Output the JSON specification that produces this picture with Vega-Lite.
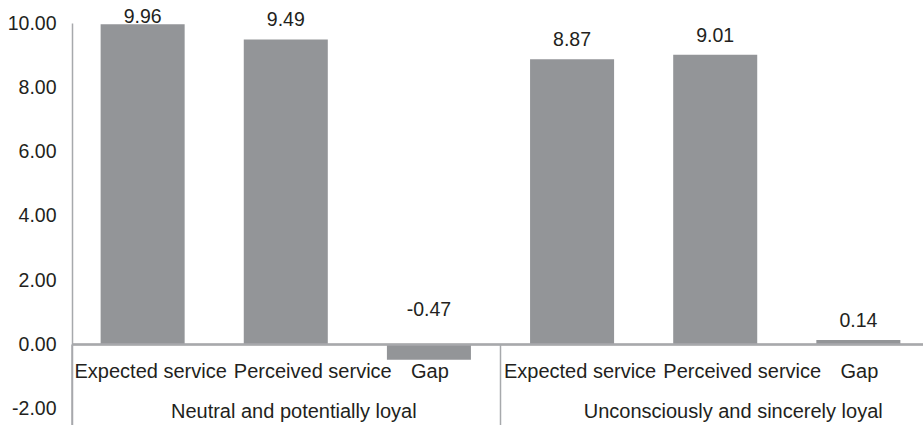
{
  "$schema": "https://vega.github.io/schema/vega-lite/v6.json",
  "width": 851,
  "height": 402,
  "autosize": {"type": "none"},
  "padding": {"left": 72, "top": 23, "right": 0, "bottom": 0},
  "background": "white",
  "config": {"view": {"stroke": null}, "font": "Liberation Sans"},
  "datasets": {
    "bars": [
      {"group": "Neutral and potentially loyal", "category": "Expected service", "value": 9.96},
      {"group": "Neutral and potentially loyal", "category": "Perceived service", "value": 9.49},
      {"group": "Neutral and potentially loyal", "category": "Gap", "value": -0.47},
      {"group": "Unconsciously and sincerely loyal", "category": "Expected service", "value": 8.87},
      {"group": "Unconsciously and sincerely loyal", "category": "Perceived service", "value": 9.01},
      {"group": "Unconsciously and sincerely loyal", "category": "Gap", "value": 0.14}
    ],
    "seps": [{"boundary": 0}, {"boundary": 3}, {"boundary": 6}]
  },
  "resolve": {"scale": {"x": "independent"}},
  "layer": [
    {
      "data": {"name": "bars"},
      "transform": [
        {"calculate": "datum.group + '|' + datum.category", "as": "key"},
        {"calculate": "min(abs(datum.value), 9.6)", "as": "labelY"},
        {"calculate": "replace(format(datum.value, '.2f'), '\u2212', '-')", "as": "labelText"}
      ],
      "encoding": {
        "x": {
          "field": "key",
          "type": "nominal",
          "sort": null,
          "axis": null,
          "scale": {"range": [0, 857], "paddingInner": 0.413, "paddingOuter": 0.2}
        }
      },
      "layer": [
        {
          "mark": {"type": "bar", "color": "#939598"},
          "encoding": {
            "y": {
              "field": "value",
              "type": "quantitative",
              "scale": {"domain": [-2.5, 10], "nice": false, "zero": false},
              "axis": {
                "values": [-2, 0, 2, 4, 6, 8, 10],
                "labelExpr": "replace(format(datum.value, '.2f'), '\u2212', '-')",
                "title": null,
                "grid": false,
                "ticks": false,
                "labelPadding": 16,
                "labelFontSize": 19.5,
                "labelColor": "#231f20",
                "labelFont": "Liberation Sans",
                "domainColor": "#a7a9ac",
                "domainWidth": 1.5
              }
            }
          }
        },
        {
          "mark": {"type": "rule", "color": "#a7a9ac", "strokeWidth": 1.5},
          "encoding": {"y": {"datum": 0}, "x": {"value": 0}, "x2": {"value": 857}}
        },
        {
          "mark": {"type": "text", "baseline": "alphabetic", "dy": -13, "fontSize": 19.5, "color": "#231f20"},
          "encoding": {
            "y": {"field": "labelY", "type": "quantitative"},
            "text": {"field": "labelText"}
          }
        },
        {
          "transform": [{"filter": "datum.category == 'Expected service'"}],
          "mark": {"type": "text", "baseline": "alphabetic", "dy": 33, "dx": 8, "fontSize": 20, "color": "#231f20"},
          "encoding": {"y": {"datum": 0}, "text": {"field": "category"}}
        },
        {
          "transform": [{"filter": "datum.category == 'Perceived service'"}],
          "mark": {"type": "text", "baseline": "alphabetic", "dy": 33, "dx": 27, "fontSize": 20, "color": "#231f20"},
          "encoding": {"y": {"datum": 0}, "text": {"field": "category"}}
        },
        {
          "transform": [{"filter": "datum.category == 'Gap'"}],
          "mark": {"type": "text", "baseline": "alphabetic", "dy": 33, "dx": 1, "fontSize": 20, "color": "#231f20"},
          "encoding": {"y": {"datum": 0}, "text": {"field": "category"}}
        },
        {
          "transform": [{"filter": "datum.category == 'Perceived service' && datum.group == 'Neutral and potentially loyal'"}],
          "mark": {"type": "text", "baseline": "alphabetic", "dy": 9, "dx": 8, "fontSize": 20, "color": "#231f20"},
          "encoding": {"y": {"datum": -2}, "text": {"field": "group"}}
        },
        {
          "transform": [{"filter": "datum.category == 'Perceived service' && datum.group == 'Unconsciously and sincerely loyal'"}],
          "mark": {"type": "text", "baseline": "alphabetic", "dy": 9, "dx": 18, "fontSize": 20, "color": "#231f20"},
          "encoding": {"y": {"datum": -2}, "text": {"field": "group"}}
        }
      ]
    },
    {
      "data": {"name": "seps"},
      "mark": {"type": "rule", "color": "#a7a9ac", "strokeWidth": 1.5},
      "encoding": {
        "x": {"field": "boundary", "type": "quantitative", "axis": null, "scale": {"domain": [0, 6], "range": [0, 857], "nice": false}},
        "y": {"datum": 0},
        "y2": {"datum": -2.5}
      }
    }
  ]
}
